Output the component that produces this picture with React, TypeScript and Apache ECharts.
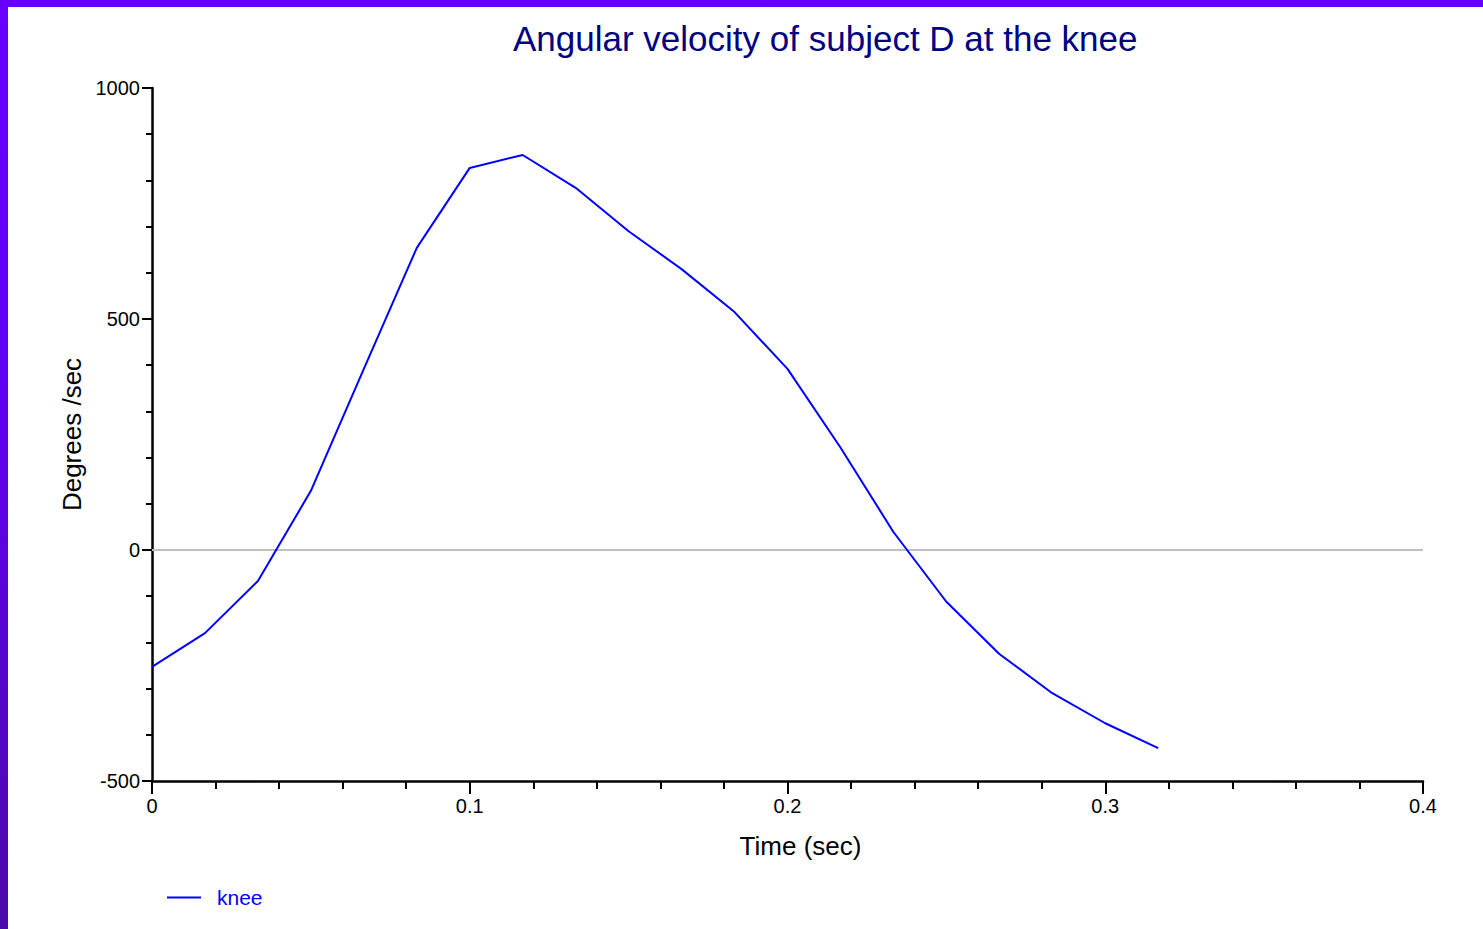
import React, { useEffect, useRef } from "react";
import * as echarts from "echarts";

const times: number[] = [
  0, 1 / 60, 2 / 60, 3 / 60, 4 / 60, 5 / 60, 6 / 60, 7 / 60, 8 / 60, 9 / 60,
  10 / 60, 11 / 60, 12 / 60, 13 / 60, 14 / 60, 15 / 60, 16 / 60, 17 / 60, 18 / 60, 19 / 60,
];
const kneeVelocity: number[] = [
  -253, -180, -67, 128, 392, 654, 827, 855, 784, 690,
  608, 515, 392, 222, 39, -112, -225, -310, -375, -429,
];
const xTicks = { min: 0, max: 0.4, interval: 0.1 };
const yTicks = { min: -500, max: 1000, interval: 500 };

const FONT = "'Liberation Sans', Arial, Helvetica, sans-serif";

export default function App() {
  const ref = useRef<HTMLDivElement>(null);

  useEffect(() => {
    document.body.style.margin = "0";
    const chart = echarts.init(ref.current!, null, { renderer: "svg" });
    const data = times.map((t, i) => [t, kneeVelocity[i]]);
    chart.setOption({
      animation: false,
      backgroundColor: "#ffffff",
      title: {
        text: "Angular velocity of subject D at the knee",
        left: 500,
        top: 9,
        textStyle: { color: "#000080", fontSize: 35, fontWeight: "normal", fontFamily: FONT },
      },
      legend: {
        left: 154,
        top: 875,
        itemWidth: 34,
        itemHeight: 14,
        itemGap: 10,
        textStyle: { color: "#0000ff", fontSize: 21, fontFamily: FONT, padding: [0, 0, 0, 11] },
        data: [{ name: "knee", icon: "path://M0,6 L34,6 L34,8 L0,8 Z" }],
      },
      grid: { left: 144, top: 81, right: 60, bottom: 148, containLabel: false },
      xAxis: {
        type: "value",
        min: xTicks.min,
        max: xTicks.max,
        interval: xTicks.interval,
        name: "Time (sec)",
        nameLocation: "middle",
        nameGap: 52,
        nameTextStyle: { color: "#000", fontSize: 26, fontFamily: FONT, padding: [0, 0, 0, 26] },
        axisLine: { show: true, onZero: false, lineStyle: { color: "#000", width: 2.5 } },
        axisTick: { show: true, length: 13, lineStyle: { color: "#000", width: 2 } },
        minorTick: { show: true, splitNumber: 5, length: 8, lineStyle: { color: "#000", width: 2 } },
        axisLabel: {
          color: "#000",
          fontSize: 20,
          fontFamily: FONT,
          margin: 15,
          formatter: (v: number) => String(Math.round(v * 10) / 10),
        },
        splitLine: { show: false },
      },
      yAxis: {
        type: "value",
        min: yTicks.min,
        max: yTicks.max,
        interval: yTicks.interval,
        name: "Degrees /sec",
        nameLocation: "middle",
        nameGap: 64,
        nameTextStyle: { color: "#000", fontSize: 26, fontFamily: FONT },
        axisLine: { show: true, lineStyle: { color: "#000", width: 2.5 } },
        axisTick: { show: true, length: 10, lineStyle: { color: "#000", width: 2 } },
        minorTick: { show: true, splitNumber: 5, length: 6, lineStyle: { color: "#000", width: 2 } },
        axisLabel: {
          color: "#000",
          fontSize: 20,
          fontFamily: FONT,
          margin: 12,
          formatter: (v: number) => String(v),
        },
        splitLine: { show: false },
      },
      series: [
        {
          name: "knee",
          type: "line",
          data,
          symbol: "none",
          color: "#0000ff",
          lineStyle: { color: "#0000ff", width: 2 },
          markLine: {
            silent: true,
            symbol: "none",
            label: { show: false },
            lineStyle: { color: "#c0c0c0", width: 2, type: "solid" },
            data: [{ yAxis: 0 }],
            z: 1,
          },
          z: 3,
        },
      ],
    });
    return () => chart.dispose();
  }, []);

  return (
    <div
      style={{
        position: "fixed",
        left: 0,
        top: 0,
        width: 1483,
        height: 929,
        background: "linear-gradient(to bottom, #6600ff 0%, #6200f4 40%, #4a0aa8 100%)",
        overflow: "hidden",
      }}
    >
      <div
        ref={ref}
        style={{ position: "absolute", left: 8, top: 7, width: 1475, height: 922, background: "#fff" }}
      />
    </div>
  );
}
